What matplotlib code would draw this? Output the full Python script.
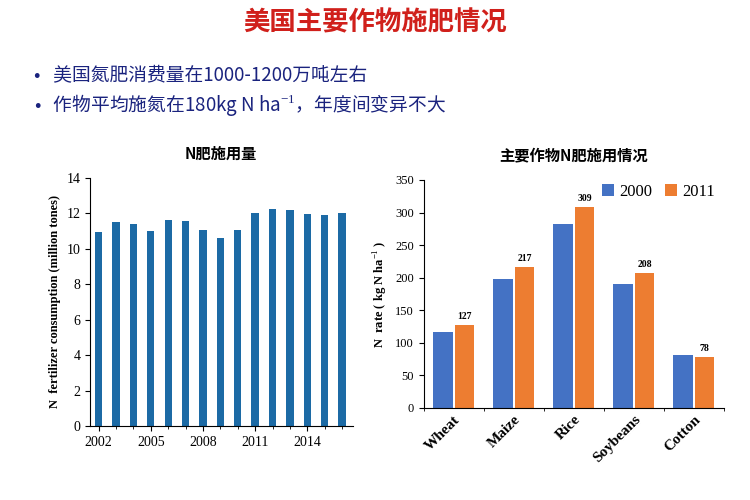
import matplotlib
matplotlib.use("Agg")
import matplotlib.pyplot as plt
from matplotlib import font_manager as fm
import numpy as np

years = list(range(2002, 2017))
consumption = [10.96, 11.53, 11.42, 11.02, 11.64, 11.6, 11.09, 10.62, 11.08, 12.04, 12.23, 12.17, 11.98, 11.92, 12.04]
year_ticks = [2002, 2005, 2008, 2011, 2014]
crops = ["Wheat", "Maize", "Rice", "Soybeans", "Cotton"]
rate_2000 = [116, 198, 283, 191, 81]
rate_2011 = [127, 217, 309, 208, 78]

names = sorted({f.name for f in fm.fontManager.ttflist if "CJK" in f.name})
pref = [n for n in names if "Sans" in n and "SC" in n] + [n for n in names if "Sans" in n] + names
cjk_name = pref[0] if pref else "Noto Sans CJK SC"
serif = "Liberation Serif"
plt.rcParams["font.family"] = [cjk_name, "DejaVu Sans"]
plt.rcParams["mathtext.fontset"] = "custom"
plt.rcParams["mathtext.rm"] = serif

fig = plt.figure(figsize=(7.5, 5), dpi=100)
fig.text(0.5, 0.955, "美国主要作物施肥情况", color="#d0201b", fontsize=19, fontweight="bold",
         ha="center", va="center")
fig.text(0.045, 0.85, "•   美国氮肥消费量在1000-1200万吨左右", fontsize=13.5, color="#1a237e", va="center")
fig.text(0.045, 0.79, "•   作物平均施氮在180kg N ha$^{-1}$，年度间变异不大", fontsize=13.5, color="#1a237e", va="center")

ax1 = fig.add_axes([0.12, 0.148, 0.35, 0.496])
ax1.bar(years, consumption, width=0.42, color="#1c6aa5")
ax1.set_ylim(0, 14)
ax1.set_yticks(range(0, 15, 2))
ax1.set_xlim(2001.5, 2016.6)
ax1.set_xticks(year_ticks)
ax1.set_xticks(years, minor=True)
for s in ["top", "right"]:
    ax1.spines[s].set_visible(False)
ax1.tick_params(labelsize=10)
for l in ax1.get_xticklabels() + ax1.get_yticklabels():
    l.set_family(serif)
ax1.set_ylabel("N  fertilizer consumption (million tones)", family=serif, fontweight="bold", fontsize=9)
ax1.set_title("N肥施用量", fontweight="bold", fontsize=11, pad=14)

ax2 = fig.add_axes([0.565, 0.184, 0.40, 0.456])
x = np.arange(len(crops))
w = 0.32
ax2.bar(x - w/2 - 0.02, rate_2000, w, color="#4472c4", label="2000")
ax2.bar(x + w/2 + 0.02, rate_2011, w, color="#ed7d31", label="2011")
for xi, v in zip(x, rate_2011):
    ax2.text(xi + w/2 + 0.02, v + 6, str(v), ha="center", va="bottom", fontsize=7, fontweight="bold", family=serif)
ax2.set_ylim(0, 350)
ax2.set_yticks(range(0, 351, 50))
ax2.set_xlim(-0.5, 4.5)
ax2.set_xticks(x)
ax2.set_xticklabels(crops, rotation=45, ha="right", rotation_mode="anchor", family=serif, fontweight="bold", fontsize=11)
ax2.set_xticks(np.arange(-0.5, 5, 1), minor=True)
ax2.tick_params(axis="x", which="major", length=0)
for s in ["top", "right"]:
    ax2.spines[s].set_visible(False)
ax2.tick_params(axis="y", labelsize=9)
for l in ax2.get_yticklabels():
    l.set_family(serif)
ax2.set_ylabel("N  rate ( kg N ha$^{-1}$ )", family=serif, fontweight="bold", fontsize=9)
ax2.set_title("主要作物N肥施用情况", fontweight="bold", fontsize=11, pad=14)
ax2.legend(loc="upper right", bbox_to_anchor=(1.02, 1.05), ncol=2, frameon=False, prop={"family": serif, "size": 12},
           handlelength=0.7, handleheight=0.7, columnspacing=0.8, handletextpad=0.3)

fig.savefig("out.png", dpi=100)
